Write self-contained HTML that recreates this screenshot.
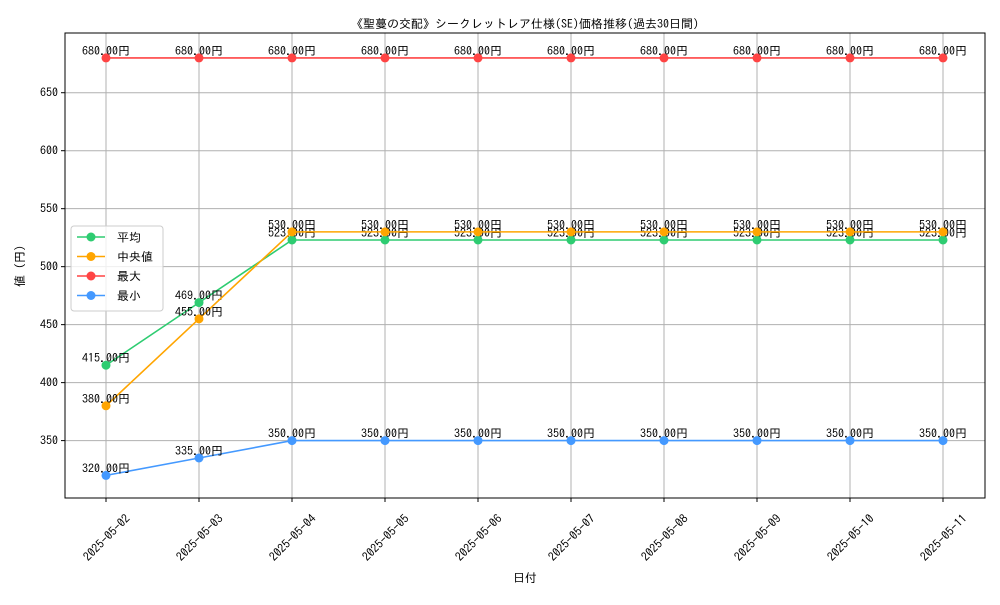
<!DOCTYPE html>
<html><head><meta charset="utf-8"><style>
body{margin:0;background:#fff}
svg text{font-family:"IPAGothic","Liberation Sans","Noto Sans CJK JP",sans-serif;font-size:12px;fill:#000}
</style></head><body>
<svg id="c" width="1000" height="600"></svg>
<script>
const categories=["2025-05-02","2025-05-03","2025-05-04","2025-05-05","2025-05-06","2025-05-07","2025-05-08","2025-05-09","2025-05-10","2025-05-11"];
const avgValues=[415,469,523,523,523,523,523,523,523,523];
const medianValues=[380,455,530,530,530,530,530,530,530,530];
const maxValues=[680,680,680,680,680,680,680,680,680,680];
const minValues=[320,335,350,350,350,350,350,350,350,350];
const yTicks=[350,400,450,500,550,600,650];
const seriesNames=["平均","中央値","最大","最小"];
const L=65,R=985,T=33,B=498;
const yMin=300.5,yMax=701.5;
const X=i=>106+i*(943-106)/(categories.length-1);
const Y=v=>B-(v-yMin)/(yMax-yMin)*(B-T);
const NS="http://www.w3.org/2000/svg";
const svg=document.getElementById('c');
function mk(t,a,p){const e=document.createElementNS(NS,t);for(const k in a)e.setAttribute(k,a[k]);(p||svg).appendChild(e);return e;}
let e;
e=mk('text',{x:525,y:28,'text-anchor':'middle','font-size':'16'});e.textContent='《聖蔓の交配》シークレットレア仕様(SE)価格推移(過去30日間)';


const grid=mk('g',{});


categories.forEach((c,i)=>{
 mk('line',{x1:X(i),x2:X(i),y1:T,y2:B,stroke:'#b0b0b0','stroke-width':1},grid);
 mk('line',{x1:X(i),x2:X(i),y1:B,y2:B+4,stroke:'#000'});
 const t=mk('text',{x:0,y:5,'text-anchor':'middle','font-size':'14',transform:`translate(${X(i)},${B+39}) rotate(-45)`});
 t.textContent=c;
 
 
});
yTicks.forEach(v=>{
 mk('line',{x1:L,x2:R,y1:Y(v),y2:Y(v),stroke:'#b0b0b0','stroke-width':1},grid);
 mk('line',{x1:L-4,x2:L,y1:Y(v),y2:Y(v),stroke:'#000'});
 const t=mk('text',{x:L-7,y:Y(v)+4,'text-anchor':'end'});t.textContent=v;
 
 
});
e=mk('rect',{x:L,y:T,width:R-L,height:B-T,fill:'none',stroke:'#000','stroke-width':1});


e=mk('text',{x:525,y:582,'text-anchor':'middle'});e.textContent='日付';


e=mk('text',{x:0,y:0,'text-anchor':'middle',transform:'translate(24,266) rotate(-90)'});e.textContent='値 (円)';


const series=[[avgValues,'#2ecc71'],[medianValues,'#ffa500'],[maxValues,'#ff4444'],[minValues,'#4499ff']];
series.forEach(([vals,col],si)=>{
 const g=mk('g',{});
 
 
 mk('polyline',{points:vals.map((v,i)=>X(i)+','+Y(v)).join(' '),fill:'none',stroke:col,'stroke-width':1.6},g);
 vals.forEach((v,i)=>{
  const c=mk('circle',{cx:X(i),cy:Y(v),r:4.5,fill:col},g);
  
  
 });
 vals.forEach((v,i)=>{
  const t=mk('text',{x:X(i),y:Y(v)-3,'text-anchor':'middle'},g);t.textContent=v.toFixed(2)+'円';
  
  
 });
});
const lg=mk('g',{});


mk('rect',{x:71,y:226,width:92,height:85,rx:3,fill:'#fff','fill-opacity':0.8,stroke:'#ccc'},lg);
seriesNames.forEach((n,i)=>{
 const y=237+i*19.5,col=series[i][1];
 const it=mk('g',{},lg);
 
 
 mk('line',{x1:77,x2:105,y1:y,y2:y,stroke:col,'stroke-width':1.6},it);
 mk('circle',{cx:91,cy:y,r:4.5,fill:col},it);
 const t=mk('text',{x:117,y:y+4.5,'font-size':'12.5'},it);t.textContent=n;
});
</script>
</body></html>
